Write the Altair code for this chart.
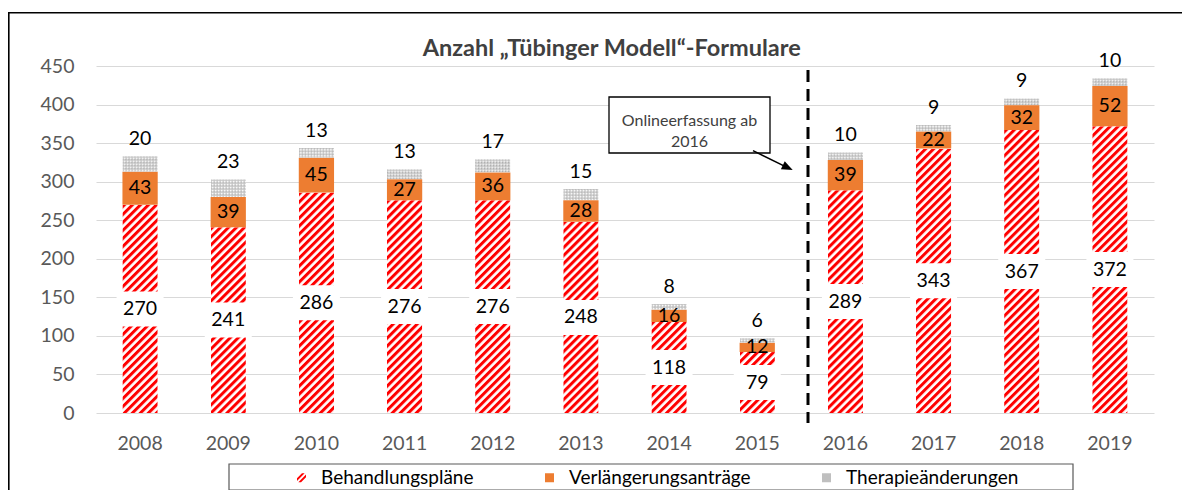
import urllib.parse
import altair as alt
import pandas as pd

# ---------------- data ----------------
YEARS = ["2008", "2009", "2010", "2011", "2012", "2013",
         "2014", "2015", "2016", "2017", "2018", "2019"]
BEHANDLUNG = [270, 241, 286, 276, 276, 248, 118, 79, 289, 343, 367, 372]
VERLAENGERUNG = [43, 39, 45, 27, 36, 28, 16, 12, 39, 22, 32, 52]
THERAPIE = [20, 23, 13, 13, 17, 15, 8, 6, 10, 9, 9, 10]
SERIES = ["Behandlungspläne", "Verlängerungsanträge", "Therapieänderungen"]
Y_TICKS = [0, 50, 100, 150, 200, 250, 300, 350, 400, 450]
TITLE = "Anzahl „Tübinger Modell“-Formulare"
NOTE = ["Onlineerfassung ab", "2016"]

# ---------------- styles ----------------
RED = "#FF0000"
ORANGE = "#ED7D31"
GREY = "#BFBFBF"
FONT = "Lato"
W, H = 1058, 347

HATCH_SVG = (
    "<svg xmlns='http://www.w3.org/2000/svg' width='100%' height='100%'>"
    "<defs><pattern id='h' width='5.66' height='5.66' patternUnits='userSpaceOnUse' "
    "patternTransform='rotate(45)'><rect width='3' height='5.66' fill='#FF0000'/></pattern></defs>"
    "<rect width='100%' height='100%' fill='#FFFFFF'/>"
    "<rect width='100%' height='100%' fill='url(#h)'/></svg>"
)
DOT_SVG = (
    "<svg xmlns='http://www.w3.org/2000/svg' width='100%' height='100%'>"
    "<defs><pattern id='d' width='3' height='3' patternUnits='userSpaceOnUse'>"
    "<rect width='3' height='3' fill='#CFCFCF'/>"
    "<rect width='1' height='1' fill='#A6A6A6'/>"
    "<rect x='1.5' y='1.5' width='1.2' height='1.2' fill='#FFFFFF'/></pattern></defs>"
    "<rect width='100%' height='100%' fill='url(#d)'/></svg>"
)
HATCH_URL = "data:image/svg+xml;charset=utf-8," + urllib.parse.quote(HATCH_SVG)
DOT_URL = "data:image/svg+xml;charset=utf-8," + urllib.parse.quote(DOT_SVG)

BOX_PATH = "M-1.343,-1H1.343V1H-1.343Z"
SLASH_PATH = "M-1,0.1L0.1,-1L0.7,-1L-1,0.7ZM-0.7,1L1,-0.7L1,-0.1L-0.1,1Z"
ARROW_PATH = "M0,0L-2,-0.8L-2,0.8Z"

df = pd.DataFrame({"year": YEARS, "beh": BEHANDLUNG, "ver": VERLAENGERUNG, "the": THERAPIE})
df["zero"] = 0
df["o1"] = df["beh"] + df["ver"]
df["t1"] = df["o1"] + df["the"]
df["mid_b"] = df["beh"] / 2
df["mid_o"] = df["beh"] + df["ver"] / 2

x = alt.X("year:N", sort=YEARS, title=None,
          scale=alt.Scale(paddingInner=0.6, paddingOuter=0.3),
          axis=alt.Axis(labelAngle=0, ticks=False, domain=False, grid=False, labelPadding=21))
yscale = alt.Scale(domain=[0, 450], nice=False)
yaxis = alt.Axis(values=Y_TICKS, ticks=False, domain=False, grid=True,
                 gridColor="#D9D9D9", gridWidth=1, labelPadding=22)


def Y(f):
    return alt.Y(f, title=None, scale=yscale, axis=yaxis)


base = alt.Chart(df)

hatch = base.mark_image(aspect=False).encode(
    x=x, y=Y("beh:Q"), y2="zero:Q", url=alt.value(HATCH_URL))
orange = base.mark_bar(color=ORANGE).encode(x=x, y=Y("o1:Q"), y2="beh:Q")
dots = base.mark_image(aspect=False).encode(
    x=x, y=Y("t1:Q"), y2="o1:Q", url=alt.value(DOT_URL))

boxes = base.mark_point(shape=BOX_PATH, size=1225, filled=True, color="#FFFFFF",
                        opacity=1, strokeWidth=0).encode(x=x, y=Y("mid_b:Q"))
lab_b = base.mark_text(font=FONT, fontSize=19.5, color="#000000", baseline="middle").encode(
    x=x, y=Y("mid_b:Q"), text="beh:Q")
lab_o = base.mark_text(font=FONT, fontSize=19.5, color="#000000", baseline="middle").encode(
    x=x, y=Y("mid_o:Q"), text="ver:Q")
lab_t = base.mark_text(font=FONT, fontSize=19.5, color="#000000", baseline="middle", dy=-17).encode(
    x=x, y=Y("t1:Q"), text="the:Q")

one = pd.DataFrame({"k": [0]})
anno = alt.Chart(one)

title_mark = anno.mark_text(font=FONT, fontSize=23.5, fontWeight="bold", color="#404040",
                            align="center", baseline="alphabetic").encode(
    x=alt.value(515.7), y=alt.value(-10.3), text=alt.value(TITLE))
dash = anno.mark_rule(color="#000000", strokeWidth=3, strokeDash=[12, 7]).encode(
    x=alt.value(712), y=alt.value(4), y2=alt.value(357))
callout = anno.mark_rect(fill="#FFFFFF", stroke="#000000", strokeWidth=1.3).encode(
    x=alt.value(513), x2=alt.value(674), y=alt.value(31), y2=alt.value(87))
callout_text = anno.mark_text(font=FONT, fontSize=16, color="#404040", baseline="middle",
                              align="center", lineHeight=21).encode(
    x=alt.value(593.5), y=alt.value(54.5), text=alt.value(NOTE))
arrow_line = anno.mark_rule(color="#000000", strokeWidth=1.5).encode(
    x=alt.value(657), y=alt.value(84.7), x2=alt.value(692), y2=alt.value(101.8))
arrow_head = anno.mark_point(shape=ARROW_PATH, size=121, filled=True, color="#000000",
                             opacity=1, angle=26).encode(x=alt.value(696.7), y=alt.value(104))
border = anno.mark_rect(fillOpacity=0, stroke="#000000", strokeWidth=1.6).encode(
    x=alt.value(-87.2), y=alt.value(-53.2), x2=alt.value(1200), y2=alt.value(600))
legend_box = anno.mark_rect(fillOpacity=0, stroke="#595959", strokeWidth=1.2).encode(
    x=alt.value(133), x2=alt.value(977), y=alt.value(398), y2=alt.value(424))

LEG = alt.Legend(title=None, orient="none", legendX=196, legendY=402, direction="horizontal",
                 symbolSize=81, symbolStrokeWidth=0, labelFont=FONT, labelFontSize=19,
                 labelColor="#000000", labelOffset=10, columnPadding=66, padding=0,
                 labelLimit=400)
legend_layer = alt.Chart(pd.DataFrame({"series": SERIES})).transform_filter("false").mark_point(
    filled=True, opacity=1).encode(
    color=alt.Color("series:N", scale=alt.Scale(domain=SERIES, range=[RED, ORANGE, GREY]), legend=LEG),
    shape=alt.Shape("series:N", scale=alt.Scale(domain=SERIES, range=[SLASH_PATH, "square", "square"]),
                    legend=LEG))

chart = alt.layer(
    hatch, orange, dots, boxes, lab_b, lab_o, lab_t,
    dash, callout, callout_text, arrow_line, arrow_head, border, legend_box, title_mark,
    legend_layer
).properties(
    width=W, height=H,
    padding={"left": 88, "top": 58, "right": 28, "bottom": 77},
    autosize=alt.AutoSizeParams(type="none"),
    background="#FFFFFF",
).configure_view(strokeWidth=0).configure_axis(
    labelFont=FONT, labelFontSize=19.5, labelColor="#595959"
)

chart.save("out.html", embed_options={"renderer": "svg", "actions": False})
